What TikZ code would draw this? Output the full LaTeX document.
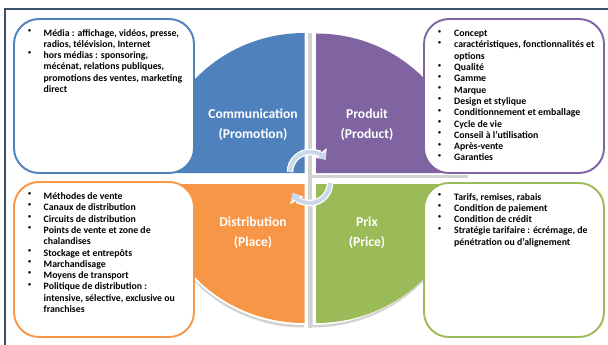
\documentclass[tikz,border=0pt]{standalone}
\usepackage{fontspec}
\setmainfont{Carlito}
\usetikzlibrary{arrows.meta}
\definecolor{cblue}{HTML}{4F81BD}
\definecolor{cpurple}{HTML}{8064A2}
\definecolor{corange}{HTML}{F79646}
\definecolor{cgreen}{HTML}{9BBB59}
\definecolor{cframe}{HTML}{3A5068}
\definecolor{cshadow}{HTML}{D2D2D2}
\definecolor{carrow}{HTML}{CBD8EA}
\tikzset{x=1pt,y=-1pt,
 card/.style={draw,fill=white,line width=1.9pt,rounded corners=25pt},
 title/.style={font=\bfseries\fontsize{13.6}{20}\selectfont,text=white,align=center},
 items/.style={font=\bfseries\fontsize{9.8}{11.3}\selectfont,text=black,anchor=north west,align=left,inner sep=0pt,execute at begin node={\rule{0pt}{8pt}}}}
\newcommand{\turnarrow}[3]{%
 \draw[line width=6.5pt,draw=white,-{Triangle[length=8.5pt,width=15pt]}] #1 arc[start angle=#2,end angle=#3,radius=20];
 \draw[line width=4pt,draw=carrow,-{Triangle[length=6.5pt,width=11pt]}] #1 arc[start angle=#2,end angle=#3,radius=20];}
\newcommand{\bl}{\raisebox{-0.6pt}{\fontsize{6}{11.3}\selectfont\textbullet}}
\begin{document}
\begin{tikzpicture}
\useasboundingbox (0,0) rectangle (608,345);
\fill[white] (0,0) rectangle (608,345);
% frame
\draw[cframe,line width=1.6pt] (5,345) -- (5,8.8) -- (608,8.8);
% shadows
\fill[cshadow] (307.5,33) rectangle (312,328);
\fill[cshadow] (312,175) rectangle (468,177.5);
\fill[cshadow] (304,327.5) arc[start angle=90,end angle=180,x radius=149,y radius=143] -- (155,200) -- (304,200) -- cycle;
\fill[cshadow] (312,327.5) arc[start angle=90,end angle=0,x radius=151,y radius=143] -- (463,200) -- (312,200) -- cycle;
\fill[white] (155,184) -- (305,184) -- (305,325) arc[start angle=90,end angle=180,x radius=150,y radius=141] -- cycle;
\fill[white] (312.5,184) -- (462,184) arc[start angle=0,end angle=90,x radius=149.5,y radius=141] -- cycle;
\fill[white] (312.5,33) rectangle (316,175);
\fill[white] (304,173) rectangle (307.5,33);
\fill[white] (304,184) rectangle (307.5,325);
% quadrants
\fill[cblue] (304.5,173) -- (157,173) arc[start angle=180,end angle=270,x radius=147.5,y radius=140] -- cycle;
\fill[cpurple] (316,173) -- (316,33.5) arc[start angle=-90,end angle=0,x radius=147,y radius=139.5] -- cycle;
\fill[corange] (304.5,184) -- (304.5,323) arc[start angle=90,end angle=180,x radius=147.5,y radius=139] -- cycle;
\fill[cgreen] (316,184) -- (463,184) arc[start angle=0,end angle=90,x radius=147,y radius=139] -- cycle;
% cards
\draw[card,draw=cblue] (14,19) rectangle (194,173);
\draw[card,draw=cpurple] (424,19) rectangle (604,173);
\draw[card,draw=corange] (14,182) rectangle (194,337);
\draw[card,draw=cgreen] (424,183) rectangle (604,337);
% titles
\node[title] (tcomm) at (253,125) {Communication\\(Promotion)};
\node[title] (tprod) at (367,125) {Produit\\(Product)};
\node[title] (tdist) at (253,233) {Distribution\\(Place)};
\node[title] (tprix) at (367,233) {Prix\\(Price)};
% arrows
\turnarrow{(290,172)}{180}{322}
\turnarrow{(330,183)}{0}{150}
% texts
\node[items] (lcomm) at (28,29) {\bl\\ \\\bl};
\node[items] (ccomm) at (43.5,29) {Média : affichage, vidéos, presse,\\radios, télévision, Internet\\hors médias : sponsoring,\\mécénat, relations publiques,\\promotions des ventes, marketing\\direct};
\node[items] (lprod) at (438,30) {\bl\\\bl\\ \\\bl\\\bl\\\bl\\\bl\\\bl\\\bl\\\bl\\\bl\\\bl};
\node[items] (cprod) at (454,30) {Concept\\caractéristiques, fonctionnalités et\\options\\Qualité\\Gamme\\Marque\\Design et stylique\\Conditionnement et emballage\\Cycle de vie\\Conseil à l'utilisation\\Après-vente\\Garanties};
\node[items] (ldist) at (28,192.5) {\bl\\\bl\\\bl\\\bl\\ \\\bl\\\bl\\\bl\\\bl};
\node[items] (cdist) at (43.5,192.5) {Méthodes de vente\\Canaux de distribution\\Circuits de distribution\\Points de vente et zone de\\chalandises\\Stockage et entrepôts\\Marchandisage\\Moyens de transport\\Politique de distribution :\\intensive, sélective, exclusive ou\\franchises};
\node[items] (lprix) at (438,193) {\bl\\\bl\\\bl\\\bl};
\node[items] (cprix) at (454,193) {Tarifs, remises, rabais\\Condition de paiement\\Condition de crédit\\Stratégie tarifaire : écrémage, de\\pénétration ou d'alignement};
\end{tikzpicture}
\end{document}
